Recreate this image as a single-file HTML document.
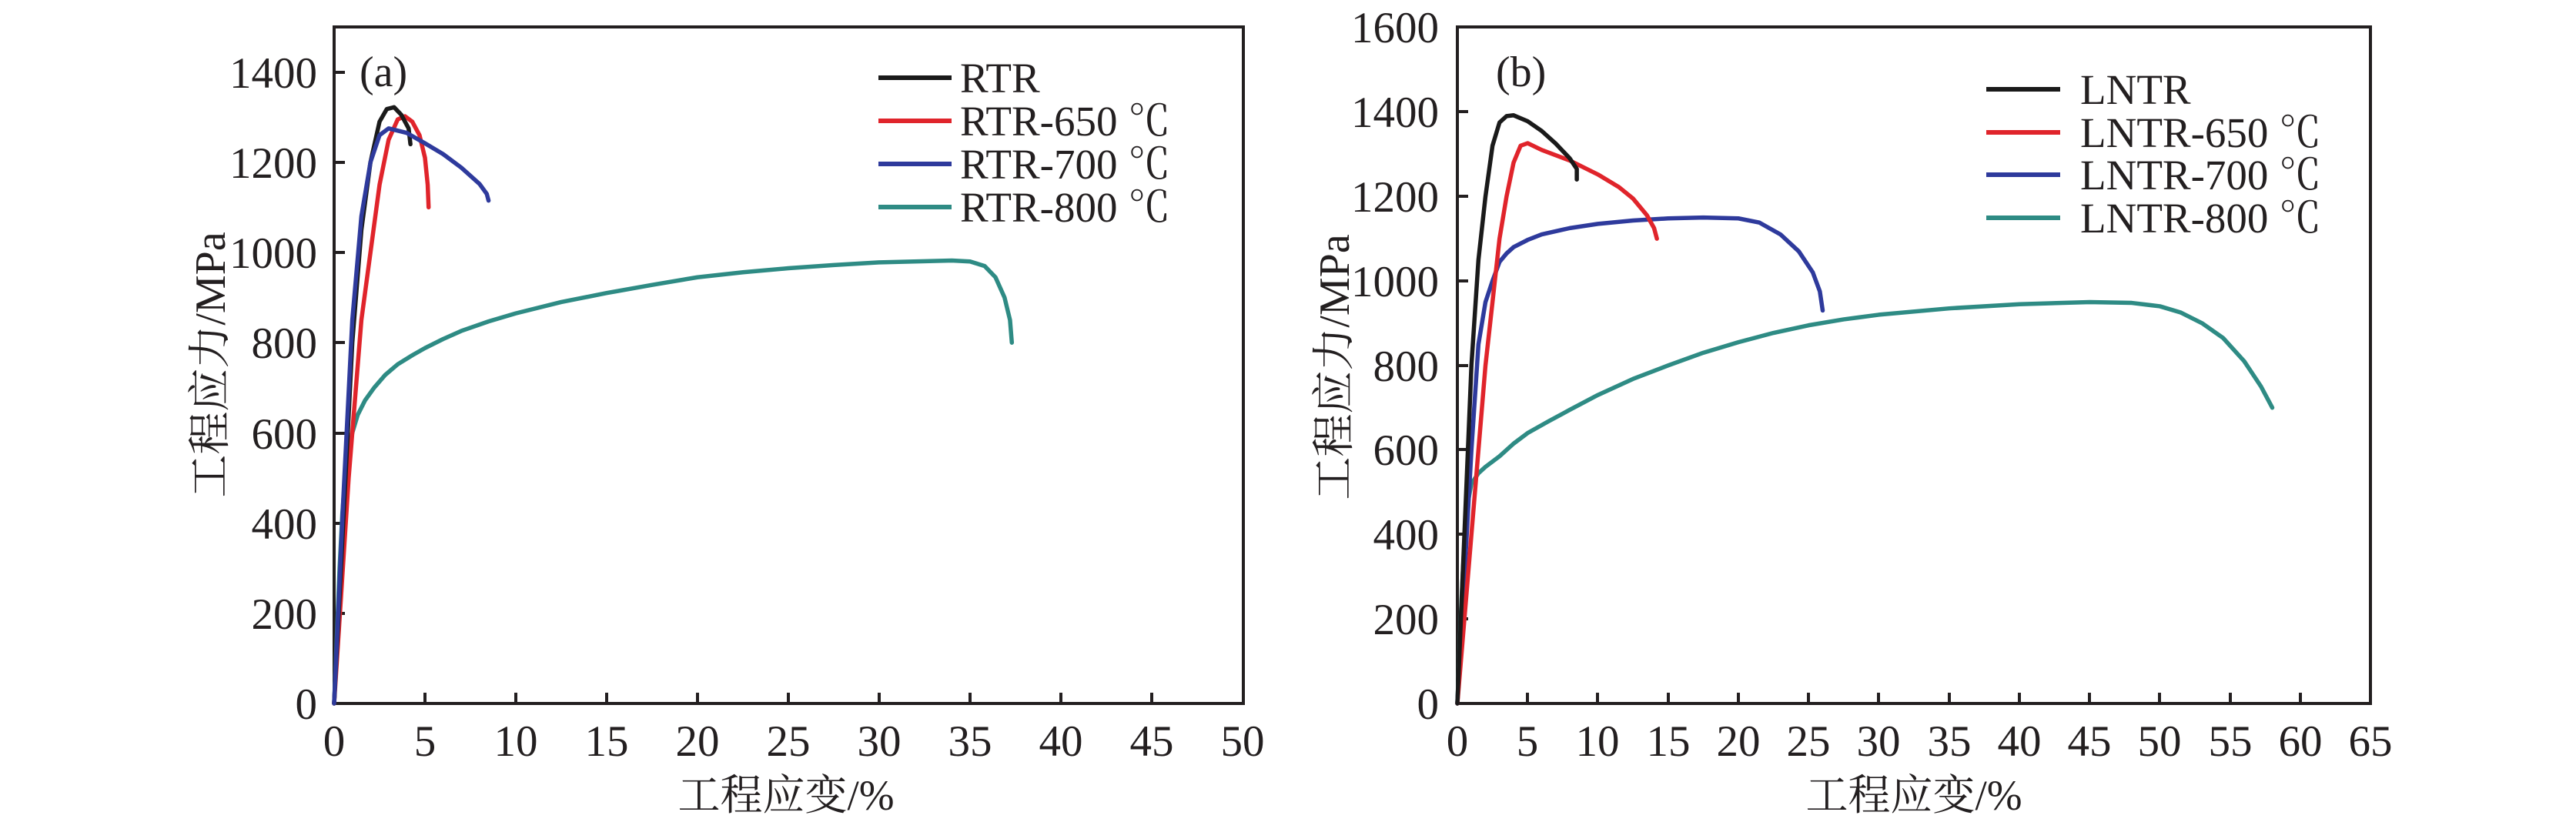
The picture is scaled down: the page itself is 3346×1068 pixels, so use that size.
<!DOCTYPE html>
<html><head><meta charset="utf-8"><style>
html,body{margin:0;padding:0;background:#fff;}
svg{display:block;}
text{font-family:"Liberation Serif","Noto Serif CJK SC",serif;fill:#231f20;}
</style></head><body>
<svg width="3346" height="1068" viewBox="0 0 3346 1068" xmlns="http://www.w3.org/2000/svg">
<!-- Panel A -->
<g stroke="#231f20" stroke-width="4" fill="none">
<rect x="434" y="35" width="1181" height="879"/>
<path d="M434 914h14M434 797h14M434 680h14M434 563h14M434 445h14M434 328h14M434 211h14M434 94h14"/>
<path d="M552 914v-14M670 914v-14M788 914v-14M906 914v-14M1024 914v-14M1142 914v-14M1260 914v-14M1378 914v-14M1496 914v-14"/>
</g>
<g font-size="57" text-anchor="end">
<text x="412" y="934">0</text><text x="412" y="817">200</text><text x="412" y="700">400</text><text x="412" y="583">600</text><text x="412" y="465">800</text><text x="412" y="348">1000</text><text x="412" y="231">1200</text><text x="412" y="114">1400</text>
</g>
<g font-size="57" text-anchor="middle">
<text x="434" y="982">0</text><text x="552" y="982">5</text><text x="670" y="982">10</text><text x="788" y="982">15</text><text x="906" y="982">20</text><text x="1024" y="982">25</text><text x="1142" y="982">30</text><text x="1260" y="982">35</text><text x="1378" y="982">40</text><text x="1496" y="982">45</text><text x="1614" y="982">50</text>
</g>
<text x="1021" y="1052" font-size="55" text-anchor="middle">工程应变/%</text>
<text transform="translate(292,474) rotate(-90)" font-size="56" text-anchor="middle">工程应力/MPa</text>
<text x="467" y="112" font-size="56">(a)</text>
<g transform="translate(434,914) scale(23.6,-0.586)" fill="none" stroke-width="5.5" stroke-linejoin="round" stroke-linecap="round">
<polyline vector-effect="non-scaling-stroke" stroke="#2e8b84" points="0,0 0.15,150 0.3,300 0.45,420 0.6,500 0.8,560 1,600 1.3,640 1.7,672 2.2,700 2.8,728 3.5,752 4.3,772 5,788 6,808 7,826 8.5,847 10,865 12.5,890 15,910 17.5,928 20,945 22.5,956 25,965 27.5,972 30,978 34,982 35,980 35.8,970 36.4,945 36.9,900 37.2,850 37.3,800"/>
<polyline vector-effect="non-scaling-stroke" stroke="#e0242b" points="0,0 0.8,500 1.5,850 2,1000 2.5,1150 3,1250 3.5,1295 3.9,1302 4.3,1290 4.7,1260 5,1210 5.15,1150 5.2,1100"/>
<polyline vector-effect="non-scaling-stroke" stroke="#1a1a1a" points="0,0 0.5,400 1,800 1.5,1050 2,1200 2.5,1290 2.9,1318 3.3,1322 3.7,1305 4.1,1275 4.2,1240"/>
<polyline vector-effect="non-scaling-stroke" stroke="#2e3a9c" points="0,0 0.5,450 1,850 1.5,1080 2,1200 2.5,1260 3,1275 4,1265 5,1242 6,1218 7,1188 8,1152 8.4,1130 8.5,1115"/>
</g>
<g stroke-width="6" fill="none">
<path d="M1141 101h95" stroke="#1a1a1a"/><path d="M1141 157h95" stroke="#e0242b"/><path d="M1141 213h95" stroke="#2e3a9c"/><path d="M1141 269h95" stroke="#2e8b84"/>
</g>
<g font-size="55">
<text x="1247" y="120">RTR</text><text x="1247" y="176">RTR-650 ℃</text><text x="1247" y="232">RTR-700 ℃</text><text x="1247" y="288">RTR-800 ℃</text>
</g>

<!-- Panel B -->
<g stroke="#231f20" stroke-width="4" fill="none">
<rect x="1893" y="35" width="1186" height="879"/>
<path d="M1893 914h14M1893 804h14M1893 694h14M1893 584h14M1893 475h14M1893 365h14M1893 255h14M1893 145h14"/>
<path d="M1984 914v-14M2075 914v-14M2167 914v-14M2258 914v-14M2349 914v-14M2440 914v-14M2532 914v-14M2623 914v-14M2714 914v-14M2805 914v-14M2897 914v-14M2988 914v-14"/>
</g>
<g font-size="57" text-anchor="end">
<text x="1869" y="934">0</text><text x="1869" y="824">200</text><text x="1869" y="714">400</text><text x="1869" y="604">600</text><text x="1869" y="495">800</text><text x="1869" y="385">1000</text><text x="1869" y="275">1200</text><text x="1869" y="165">1400</text><text x="1869" y="55">1600</text>
</g>
<g font-size="57" text-anchor="middle">
<text x="1893" y="982">0</text><text x="1984" y="982">5</text><text x="2075" y="982">10</text><text x="2167" y="982">15</text><text x="2258" y="982">20</text><text x="2349" y="982">25</text><text x="2440" y="982">30</text><text x="2532" y="982">35</text><text x="2623" y="982">40</text><text x="2714" y="982">45</text><text x="2805" y="982">50</text><text x="2897" y="982">55</text><text x="2988" y="982">60</text><text x="3079" y="982">65</text>
</g>
<text x="2486" y="1052" font-size="55" text-anchor="middle">工程应变/%</text>
<text transform="translate(1752,477) rotate(-90)" font-size="56" text-anchor="middle">工程应力/MPa</text>
<text x="1943" y="112" font-size="56">(b)</text>
<g transform="translate(1893,914) scale(18.25,-0.549)" fill="none" stroke-width="5.5" stroke-linejoin="round" stroke-linecap="round">
<polyline vector-effect="non-scaling-stroke" stroke="#2e8b84" points="0,0 0.3,250 0.6,450 1,520 1.5,545 2,560 3,585 4,615 5,640 6.5,668 8,695 10,730 12.5,768 15,800 17.5,830 20,855 22.5,877 25,895 27.5,909 30,920 35,935 40,945 45,950 48,948 50,940 51.5,925 53,900 54.5,865 56,810 57.2,750 58,700"/>
<polyline vector-effect="non-scaling-stroke" stroke="#2e3a9c" points="0,0 0.5,300 1,600 1.5,850 2,950 2.5,1000 3,1045 3.5,1065 4,1080 5,1097 6,1110 8,1125 10,1135 12.5,1143 15,1148 17.5,1150 20,1148 21.5,1138 23,1110 24.3,1070 25.3,1020 25.8,975 26,930"/>
<polyline vector-effect="non-scaling-stroke" stroke="#e0242b" points="0,0 1,400 1.5,600 2,800 2.5,950 3,1100 3.5,1200 4,1280 4.5,1320 5,1326 6,1310 8,1285 10,1252 11.5,1222 12.5,1195 13.5,1155 14,1125 14.2,1100"/>
<polyline vector-effect="non-scaling-stroke" stroke="#1a1a1a" points="0,0 0.5,400 1,800 1.5,1050 2,1200 2.5,1320 3,1375 3.5,1390 4,1392 5,1378 6,1355 7,1325 8,1290 8.5,1265 8.5,1240"/>
</g>
<g stroke-width="6" fill="none">
<path d="M2580 116h96" stroke="#1a1a1a"/><path d="M2580 172h96" stroke="#e0242b"/><path d="M2580 227h96" stroke="#2e3a9c"/><path d="M2580 283h96" stroke="#2e8b84"/>
</g>
<g font-size="55">
<text x="2702" y="135">LNTR</text><text x="2702" y="191">LNTR-650 ℃</text><text x="2702" y="246">LNTR-700 ℃</text><text x="2702" y="302">LNTR-800 ℃</text>
</g>
</svg>
</body></html>
